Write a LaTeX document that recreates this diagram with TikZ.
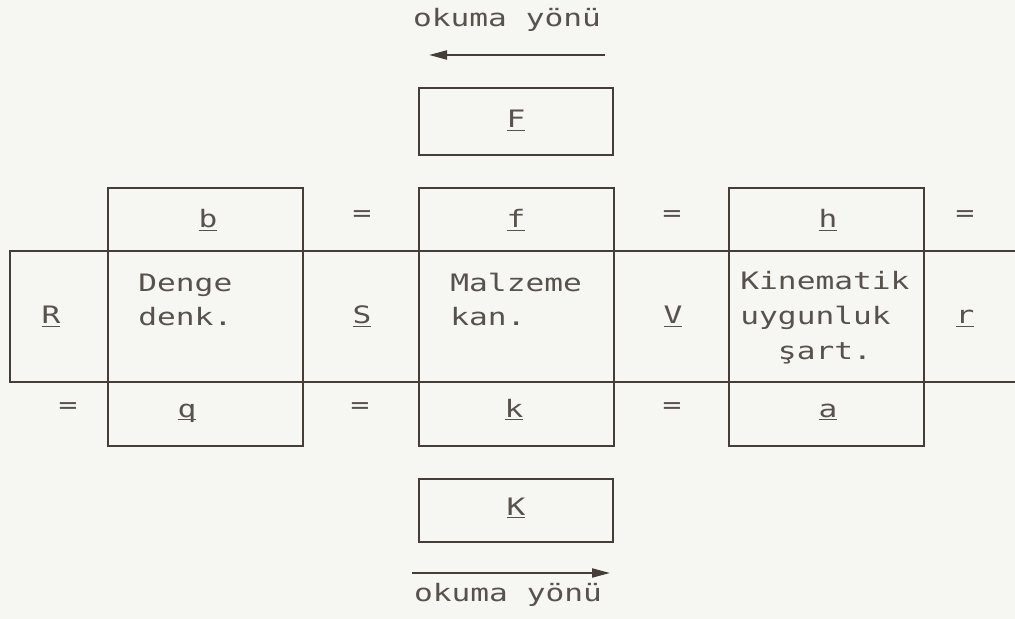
\documentclass[tikz,border=0pt]{standalone}
\usepackage{fontspec}
\newfontfamily\dm[FakeStretch=1.3]{DejaVu Sans Mono}
\usetikzlibrary{arrows.meta}
\definecolor{paper}{RGB}{246,246,242}
\definecolor{ink}{RGB}{68,62,54}
\definecolor{txt}{RGB}{88,82,76}
\newcommand\ulx[1]{\underline{\smash{#1}}}
\begin{document}
\begin{tikzpicture}[x=0.5pt,y=-0.5pt,
  frame/.style={draw=ink,line width=1pt,inner sep=0pt},
  colbox/.style={frame,minimum width=97.5pt,minimum height=129pt},
  lbl/.style={text=txt,font=\dm\fontsize{12}{17.25}\selectfont,inner sep=0pt},
  arr/.style={draw=ink,line width=1pt,-{Triangle[length=9pt,width=4.5pt]}}]
\useasboundingbox[fill=paper] (0,0) rectangle (1015,619);
% band
\draw[draw=ink,line width=1pt] (1016,251) -- (10,251) -- (10,382) -- (1016,382);
% column boxes
\node[colbox] (denge) at (205,317) {};
\node[colbox] (malz) at (516,317) {};
\node[colbox] (kin) at (826.5,317) {};
\node[frame,minimum width=97pt,minimum height=33.5pt] (Fbox) at (516,121.5) {};
\node[frame,minimum width=97pt,minimum height=31.5pt] (Kbox) at (516,510.5) {};
% top row
\node[lbl,anchor=base] (b) at (208,228) {\ulx{b}};
\node[lbl] (e1) at (362,216) {=};
\node[lbl,anchor=base] (f) at (516,228) {\ulx{f}};
\node[lbl] (e2) at (672,216) {=};
\node[lbl,anchor=base] (h) at (828,228) {\ulx{h}};
\node[lbl] (e3) at (965,216) {=};
% middle row
\node[lbl,anchor=base] (R) at (51,324) {\ulx{R}};
\node[lbl,anchor=base west,align=left] (dt) at (138,326) {Denge\\denk.};
\node[lbl,anchor=base] (S) at (362,324) {\ulx{S}};
\node[lbl,anchor=base west,align=left] (mt) at (450,326) {Malzeme\\kan.};
\node[lbl,anchor=base] (V) at (673,324) {\ulx{V}};
\node[lbl,anchor=base west,align=left] (kt) at (740,359) {Kinematik\\uygunluk\\\phantom{uy}şart.};
\node[lbl,anchor=base] (r) at (965,324) {\ulx{r}};
% bottom row
\node[lbl] (e4) at (68,408) {=};
\node[lbl,anchor=base] (q) at (187,417) {\ulx{q}};
\node[lbl] (e5) at (360,408) {=};
\node[lbl,anchor=base] (k) at (514,417) {\ulx{k}};
\node[lbl] (e6) at (672,408) {=};
\node[lbl,anchor=base] (a) at (828,417) {\ulx{a}};
% F and K
\node[lbl,anchor=base] (F) at (516,128) {\ulx{F}};
\node[lbl,anchor=base] (K) at (516,515) {\ulx{K}};
% reading direction
\node[lbl,anchor=base] (ot) at (507,27) {okuma yönü};
\node[lbl,anchor=base] (ob) at (508,601) {okuma yönü};
\coordinate (t1) at (605,55);
\coordinate (t2) at (429,55);
\coordinate (b1) at (412,573);
\coordinate (b2) at (610,573);
\draw[arr] (t1) -- (t2);
\draw[arr] (b1) -- (b2);
\end{tikzpicture}
\end{document}
